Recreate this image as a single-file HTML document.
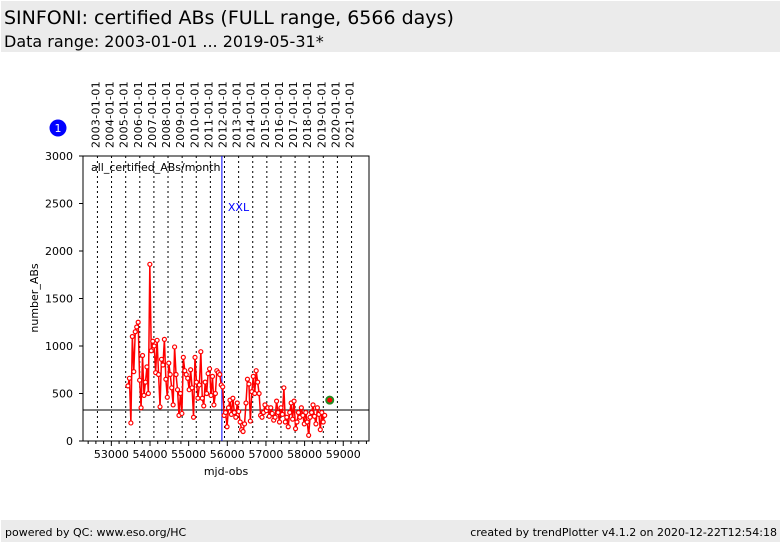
<!DOCTYPE html>
<html><head><meta charset="utf-8"><style>
body{margin:0;width:782px;height:542px;background:#fff;font-family:"DejaVu Sans","Liberation Sans",sans-serif;position:relative;overflow:hidden}
.hdr{position:absolute;left:1px;top:1px;width:779px;height:51px;background:#ebebeb}
.ftr{position:absolute;left:1px;top:520px;width:779px;height:22px;background:#ebebeb;font-size:11px}
</style></head><body>
<div class="hdr">
<div style="position:absolute;left:3px;top:6px;font-size:19px">SINFONI: certified ABs (FULL range, 6566 days)</div>
<div style="position:absolute;left:3px;top:31px;font-size:16px">Data range: 2003-01-01 ... 2019-05-31*</div>
</div>
<div class="ftr">
<span style="position:absolute;left:4px;top:6px">powered by QC: www.eso.org/HC</span>
<span style="position:absolute;right:3px;top:6px">created by trendPlotter v4.1.2 on 2020-12-22T12:54:18</span>
</div>
<svg id="chart" width="782" height="542" style="position:absolute;left:0;top:0"></svg>
<script>
const yTicks=[0,500,1000,1500,2000,2500,3000];
const xTicks=[53000,54000,55000,56000,57000,58000,59000];
const years=["2003","2004","2005","2006","2007","2008","2009","2010","2011","2012","2013","2014","2015","2016","2017","2018","2019","2020","2021"];
const yearMjd=[52640,53005,53371,53736,54101,54466,54832,55197,55562,55927,56293,56658,57023,57388,57754,58119,58484,58849,59215];
const startMjd=53430;
const stepDays=37.7;
const values=[580,660,190,1100,730,1150,1200,1250,640,350,900,480,620,780,500,1860,950,1050,1000,720,1060,700,360,860,800,1070,650,460,820,700,560,380,990,700,540,270,500,290,880,740,700,660,540,750,560,250,880,620,450,590,940,450,370,620,500,710,760,480,680,380,500,740,720,700,590,570,270,300,150,350,430,280,450,300,250,400,310,200,120,100,180,400,650,600,210,520,680,500,740,620,500,270,250,300,380,320,350,260,350,290,220,250,420,300,200,350,280,560,200,250,150,300,400,230,420,130,200,300,250,350,270,180,300,200,60,250,300,380,260,180,350,280,120,300,200,270];
const lastMjd=58650, lastVal=430;
const refLine=326, xxlMjd=55860;
const svg=document.getElementById('chart');
const NS='http://www.w3.org/2000/svg';
const L=83,R=369,T=156,B=441;
const xs=v=>150+(v-54000)*0.03865;
const ys=v=>B-(v/3000)*(B-T);
function mk(t,a,p){const e=document.createElementNS(NS,t);for(const k in a)e.setAttribute(k,a[k]);(p||svg).appendChild(e);return e;}
yearMjd.forEach((m,i)=>{
 const x=xs(m);
 const g=mk('line',{x1:x,x2:x,y1:T,y2:B,stroke:'#000','stroke-width':1,'stroke-dasharray':'2,3'});
 
 
 const t=mk('text',{x:0,y:0,transform:`translate(${x+2},148) rotate(-90)`,'font-size':11,'font-family':'DejaVu Sans, Liberation Sans, sans-serif','letter-spacing':'0.3'});
 t.textContent=years[i]+'-01-01';
 
 
});
const fr=mk('rect',{x:L,y:T,width:R-L,height:B-T,fill:'none',stroke:'#000','stroke-width':1});


yTicks.forEach(v=>{
 const y=ys(v);
 mk('line',{x1:L-4,x2:L,y1:y,y2:y,stroke:'#000'});
 const t=mk('text',{x:L-10,y:y+4,'text-anchor':'end','font-size':11});
 t.textContent=v;
 
 
});
for(let m=52400;m<=59600;m+=200){const x=xs(m);if(x>L&&x<R)mk('line',{x1:x,x2:x,y1:B,y2:B+(m%1000==0?5:3),stroke:'#000'});}
xTicks.forEach(v=>{
 const t=mk('text',{x:xs(v),y:B+17,'text-anchor':'middle','font-size':11});
 t.textContent=v;
 
 
});
let t=mk('text',{x:226,y:475,'text-anchor':'middle','font-size':11});t.textContent='mjd-obs';


t=mk('text',{x:0,y:0,transform:'translate(38,298) rotate(-90)','text-anchor':'middle','font-size':11});t.textContent='number_ABs';


t=mk('text',{x:91,y:171,'font-size':11});t.textContent='all_certified_ABs/month';


const xl=mk('line',{x1:xs(xxlMjd),x2:xs(xxlMjd),y1:T,y2:B,stroke:'#0000ff','stroke-width':1});


t=mk('text',{x:xs(xxlMjd)+6,y:211,'font-size':11,fill:'#0000ff'});t.textContent='XXL';


const rl=mk('line',{x1:L,x2:R,y1:ys(refLine),y2:ys(refLine),stroke:'#000','stroke-width':1});


const pts=values.map((v,i)=>[xs(startMjd+i*stepDays),ys(v)]);
const pl=mk('polyline',{points:pts.map(p=>p.join(',')).join(' '),fill:'none',stroke:'#ff0000','stroke-width':1.5});


pts.forEach(p=>{
 const c=mk('circle',{cx:p[0],cy:p[1],r:2,fill:'#fff',stroke:'#ff0000','stroke-width':1.2});
 
 
});
const lp=mk('circle',{cx:xs(lastMjd),cy:ys(lastVal),r:3.5,fill:'#ff0000',stroke:'#228b22','stroke-width':2});


const bc=mk('circle',{cx:58,cy:128,r:8.5,fill:'#0000ff'});


t=mk('text',{x:58,y:132,'text-anchor':'middle','font-size':11,fill:'#fff'});t.textContent='1';


</script>
</body></html>
